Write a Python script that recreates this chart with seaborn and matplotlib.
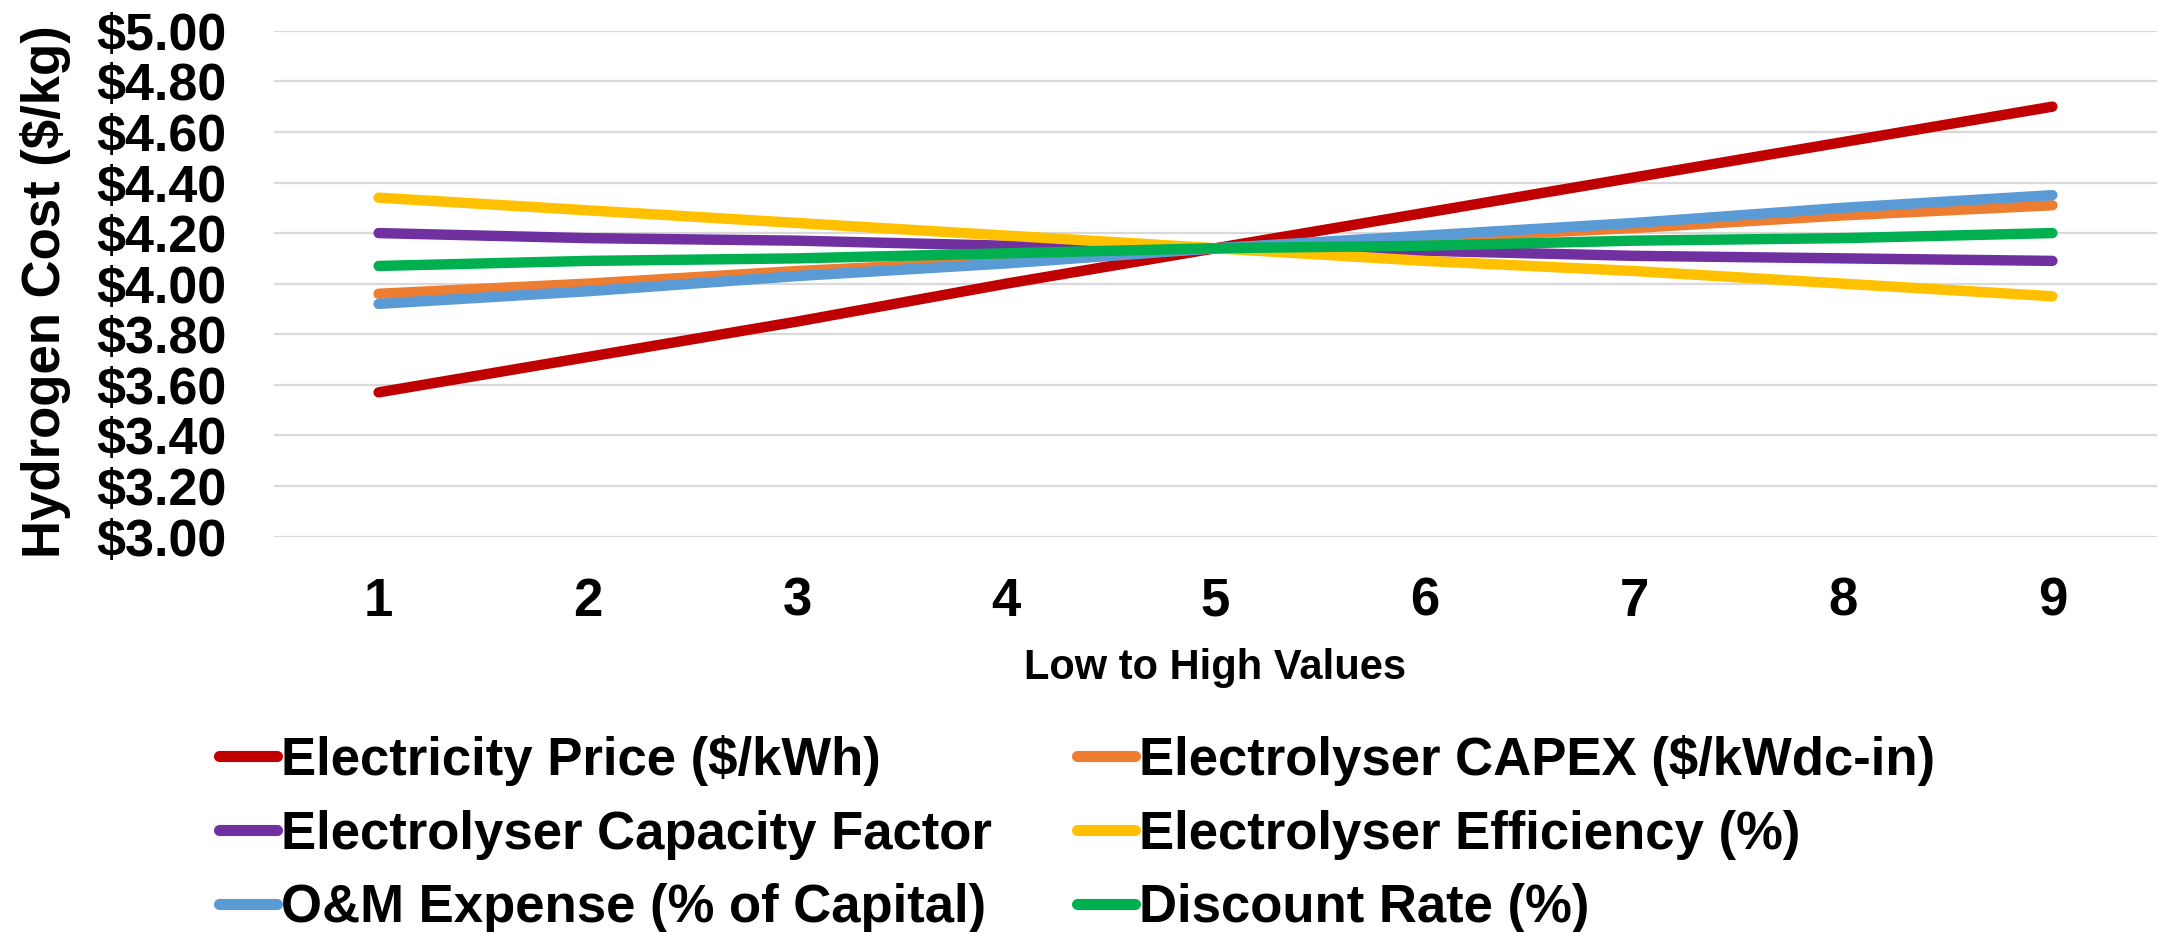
import matplotlib
matplotlib.use("Agg")
import matplotlib.pyplot as plt
import seaborn as sns
import pandas as pd

# ---- data ----
steps = [1, 2, 3, 4, 5, 6, 7, 8, 9]
series_names = [
    "Electricity Price ($/kWh)",
    "Electrolyser CAPEX ($/kWdc-in)",
    "Electrolyser Capacity Factor",
    "Electrolyser Efficiency (%)",
    "O&M Expense (% of Capital)",
    "Discount Rate (%)",
]
electricity_price = [3.57, 3.71, 3.85, 4.00, 4.14, 4.28, 4.42, 4.56, 4.70]
electrolyser_capex = [3.96, 4.00, 4.05, 4.09, 4.14, 4.18, 4.22, 4.27, 4.31]
capacity_factor = [4.20, 4.18, 4.17, 4.15, 4.14, 4.13, 4.11, 4.10, 4.09]
efficiency = [4.34, 4.29, 4.24, 4.19, 4.14, 4.09, 4.05, 4.00, 3.95]
om_expense = [3.92, 3.97, 4.03, 4.08, 4.14, 4.19, 4.24, 4.30, 4.35]
discount_rate = [4.07, 4.09, 4.10, 4.12, 4.14, 4.15, 4.17, 4.18, 4.20]
colors = ["#C00000", "#ED7D31", "#7030A0", "#FFC000", "#5B9BD5", "#00B050"]
y_ticks = [3.0, 3.2, 3.4, 3.6, 3.8, 4.0, 4.2, 4.4, 4.6, 4.8, 5.0]
y_tick_labels = ["$3.00", "$3.20", "$3.40", "$3.60", "$3.80", "$4.00",
                 "$4.20", "$4.40", "$4.60", "$4.80", "$5.00"]

all_values = [electricity_price, electrolyser_capex, capacity_factor,
              efficiency, om_expense, discount_rate]
rows = []
for name, vals in zip(series_names, all_values):
    for s, v in zip(steps, vals):
        rows.append({"step": s, "cost": v, "series": name})
df = pd.DataFrame(rows)

# ---- style ----
sns.set_style("white")
plt.rcParams["font.family"] = ["Liberation Sans", "DejaVu Sans"]
plt.rcParams["font.weight"] = "bold"
plt.rcParams["text.color"] = "black"
plt.rcParams["axes.labelcolor"] = "black"
plt.rcParams["xtick.color"] = "black"
plt.rcParams["ytick.color"] = "black"

fig = plt.figure(figsize=(21.58, 9.32), dpi=100)
ax = fig.add_axes([274 / 2158, 1 - 536.5 / 932, 1883 / 2158, (536.5 - 30.8) / 932])

sns.lineplot(data=df, x="step", y="cost", hue="series", hue_order=series_names,
             palette=colors, linewidth=7.5, ax=ax, legend=True,
             solid_capstyle="round")

ax.set_xlim(0.5, 9.5)
ax.set_ylim(3.0, 5.0)
ax.set_xticks(steps)
ax.set_xticklabels([str(s) for s in steps], fontsize=38, fontweight="bold",
                   color="black")
ax.set_yticks(y_ticks)
ax.set_yticklabels(y_tick_labels, fontsize=37.5, fontweight="bold",
                   color="black")
ax.tick_params(axis="y", length=0, pad=34)
ax.tick_params(axis="x", length=0, pad=29)
ax.grid(axis="y", color="#D9D9D9", linewidth=1.6)
ax.grid(axis="x", visible=False)
for sp in ax.spines.values():
    sp.set_visible(False)

ax.set_xlabel("Low to High Values", fontsize=30, fontweight="bold",
              labelpad=15, color="black")
ax.set_ylabel("Hydrogen Cost ($/kg)", fontsize=38, fontweight="bold",
              color="black")
ax.yaxis.set_label_coords(-0.108, 0.484)

handles, labels = ax.get_legend_handles_labels()
for h in handles:
    h.set_linewidth(8)
    h.set_solid_capstyle("round")
order = [0, 2, 4, 1, 3, 5]
leg = ax.legend([handles[i] for i in order], [labels[i] for i in order],
                ncol=2, loc="center",
                bbox_to_anchor=(1077 / 2158, 1 - 834 / 932),
                bbox_transform=fig.transFigure, frameon=False,
                prop={"family": "Liberation Sans", "weight": "bold", "size": 38},
                handlelength=1.1, handletextpad=0.08, columnspacing=1.6,
                labelspacing=0.45, borderpad=0)
for t in leg.get_texts():
    t.set_color("black")

fig.savefig("out.png", dpi=100, facecolor="white")
